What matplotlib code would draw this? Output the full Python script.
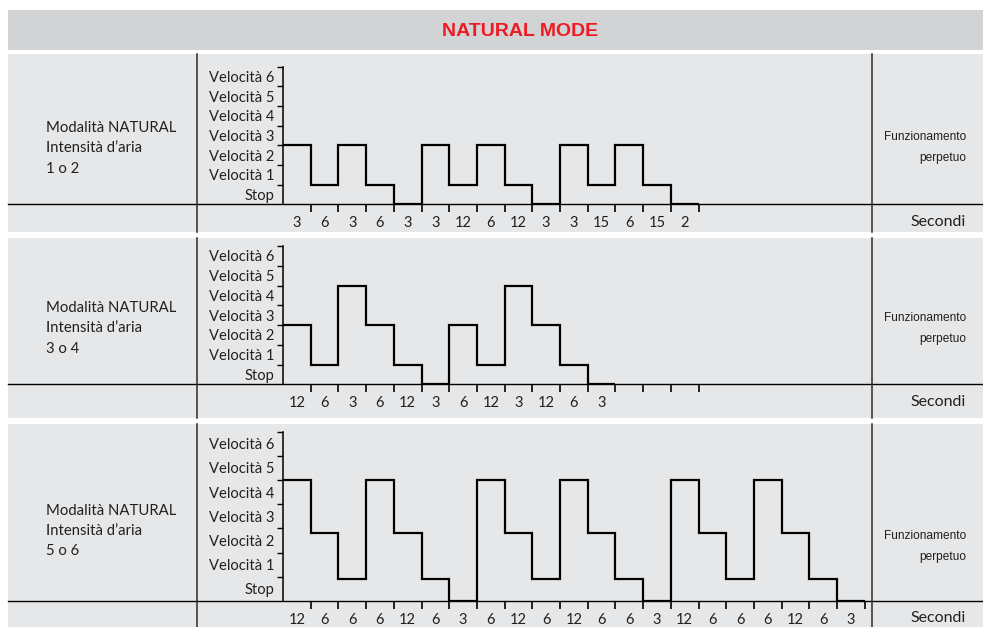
import matplotlib
matplotlib.use("Agg")
import matplotlib.pyplot as plt
from matplotlib.patches import Rectangle

# ---------------- data ----------------
speed_labels = ["Stop", "Velocità 1", "Velocità 2", "Velocità 3",
                "Velocità 4", "Velocità 5", "Velocità 6"]

title = "NATURAL MODE"
row_titles = [["Modalità NATURAL", "Intensità d’aria", "1 o 2"],
              ["Modalità NATURAL", "Intensità d’aria", "3 o 4"],
              ["Modalità NATURAL", "Intensità d’aria", "5 o 6"]]
right_note = ["Funzionamento", "perpetuo"]
x_unit = "Secondi"

levels_1 = [3, 1, 3, 1, 0, 3, 1, 3, 1, 0, 3, 1, 3, 1, 0]
secs_1 = ["3", "6", "3", "6", "3", "3", "12", "6", "12", "3", "3", "15", "6", "15", "2"]

levels_2 = [3, 1, 5, 3, 1, 0, 3, 1, 5, 3, 1, 0]
secs_2 = ["12", "6", "3", "6", "12", "3", "6", "12", "3", "12", "6", "3"]

levels_3 = [5, 2.8, 0.9, 5, 2.8, 0.9, 0, 5, 2.8, 0.9, 5, 2.8, 0.9, 0,
            5, 2.8, 0.9, 5, 2.8, 0.9, 0]
secs_3 = ["12", "6", "6", "6", "12", "6", "3", "6", "12", "6", "12", "6", "6", "3",
          "12", "6", "6", "6", "12", "6", "3"]

# ---------------- layout (pixels) ----------------
W, H = 983, 627
FONT = ["Lato", "DejaVu Sans"]
NARROW = ["Liberation Sans", "DejaVu Sans"]
TXT = "#231f20"
PANEL_BG = "#e6e7e8"
TITLE_BG = "#d1d3d4"
RED = "#ed1c24"

panels = [
    dict(top=54, bottom=232.3, axis=204.3, ctop=66.7, nslots=15,
         label_y=[128, 148.5, 169], note_y=[137, 158],
         levels=levels_1, secs=secs_1, label=row_titles[0]),
    dict(top=238.3, bottom=417.7, axis=384.3, ctop=246, nslots=15,
         label_y=[308, 328.5, 349], note_y=[318, 339],
         levels=levels_2, secs=secs_2, label=row_titles[1]),
    dict(top=424.3, bottom=627, axis=601, ctop=431.7, nslots=21,
         label_y=[511, 531, 551], note_y=[536, 557],
         levels=levels_3, secs=secs_3, label=row_titles[2]),
]
X0 = 283.0
UNIT = 27.7
LEFT_DIV = 196.5
RIGHT_DIV = 872.0

fig = plt.figure(figsize=(W / 100, H / 100), dpi=100)
fig.patch.set_facecolor("white")

bg = fig.add_axes([0, 0, 1, 1])
bg.set_xlim(0, W)
bg.set_ylim(H, 0)
bg.axis("off")

# title bar
bg.add_patch(Rectangle((8, 10), W - 8, 39.5, facecolor=TITLE_BG, edgecolor="none"))
bg.text(520, 32, title, color=RED, fontsize=14, fontweight="bold",
        family=NARROW, ha="center", va="center")


def frac(x0, y0, x1, y1):
    return [x0 / W, 1 - y1 / H, (x1 - x0) / W, (y1 - y0) / H]


for p in panels:
    # background & table lines
    bg.add_patch(Rectangle((8, p["top"]), W - 8, p["bottom"] - p["top"],
                           facecolor=PANEL_BG, edgecolor="none"))
    bg.plot([8, W], [p["axis"], p["axis"]], color="black", lw=1.0)
    for xd in (LEFT_DIV, RIGHT_DIV):
        bg.plot([xd, xd], [p["top"], p["bottom"]], color="#2b2b2b", lw=1.1)

    for line, yy in zip(p["label"], p["label_y"]):
        bg.text(46, yy, line, color=TXT, fontsize=10.7, family=FONT,
                ha="left", va="center")
    for line, yy in zip(right_note, p["note_y"]):
        bg.text(966, yy, line, color=TXT, fontsize=8.6, family=NARROW,
                ha="right", va="center")
    bg.text(966, p["axis"] + 17.5, x_unit, color=TXT, fontsize=11.5, family=FONT,
            ha="right", va="center")

    # chart axes
    n = p["nslots"]
    ax = fig.add_axes(frac(X0, p["ctop"], X0 + n * UNIT, p["axis"]))
    ax.patch.set_alpha(0)
    ax.set_xlim(0, n)
    ax.set_ylim(0, 7)
    for s in ("top", "right", "bottom"):
        ax.spines[s].set_visible(False)
    ax.spines["left"].set_linewidth(1.1)

    vals = p["levels"]
    ax.stairs(vals, range(len(vals) + 1), baseline=None, color="black",
              lw=1.6, zorder=3)

    ax.set_yticks(range(1, 8))
    ax.set_yticks([i + 0.5 for i in range(7)], minor=True)
    ax.set_yticklabels(speed_labels, minor=True, family=FONT, fontsize=10.6, color=TXT)
    ax.tick_params(axis="y", which="major", direction="out", length=4, width=1,
                   labelleft=False)
    ax.tick_params(axis="y", which="minor", length=0, pad=6)

    ax.set_xticks(range(1, n + 1))
    ax.set_xticks([i + 0.5 for i in range(len(p["secs"]))], minor=True)
    ax.set_xticklabels(p["secs"], minor=True, family=FONT, fontsize=10.5, color=TXT)
    ax.tick_params(axis="x", which="major", direction="out", length=6, width=1.2,
                   labelbottom=False)
    ax.tick_params(axis="x", which="minor", length=0, pad=8.5)

fig.savefig("out.png", dpi=100, facecolor="white")
